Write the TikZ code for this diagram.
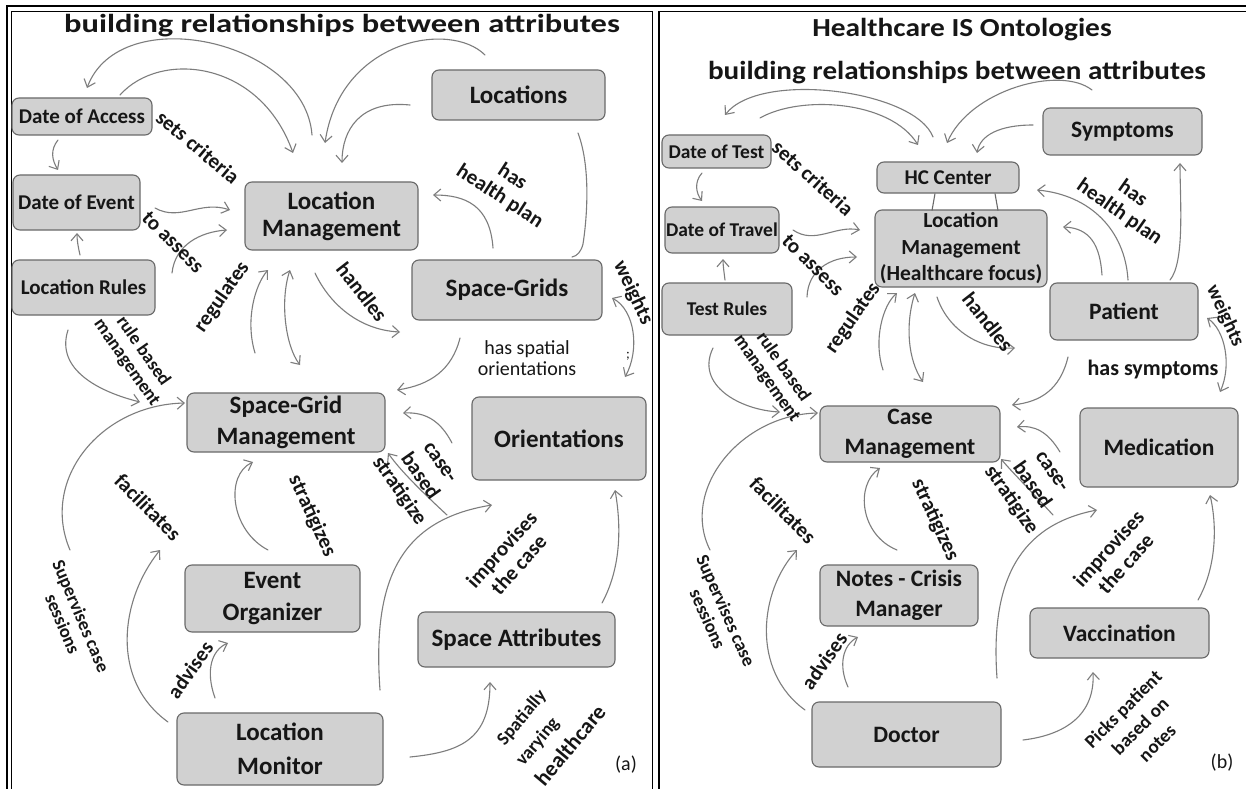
\documentclass[tikz,border=0pt]{standalone}
\usepackage{fontspec}
\setmainfont{Carlito}
\usetikzlibrary{arrows.meta}

\definecolor{boxfill}{RGB}{209,209,209}
\definecolor{boxline}{RGB}{105,105,105}
\definecolor{wire}{RGB}{125,125,125}
\definecolor{ink}{RGB}{22,22,22}
\newcommand{\fsz}[2]{\fontsize{#1}{#2}\selectfont}

\begin{document}
\begin{tikzpicture}[x=1pt,y=-1pt,
  >={Straight Barb[length=7pt,width=12pt]},
  box/.style={draw=boxline, fill=boxfill, rounded corners=7pt, line width=1.1pt,
    align=center, inner sep=0pt, text=ink},
  bigA/.style={font=\bfseries\fsz{25}{29}},
  smallA/.style={font=\bfseries\fsz{21}{25}},
  bigB/.style={font=\bfseries\fsz{23.5}{29}},
  smallB/.style={font=\bfseries\fsz{19.5}{24}},
  lab/.style={font=\bfseries\fsz{21}{23}, align=center, text=ink, inner sep=0pt},
  slab/.style={font=\bfseries\fsz{18.5}{20}, align=center, text=ink, inner sep=0pt},
  plain/.style={font=\fsz{20}{21}, align=center, text=ink, inner sep=0pt},
  title/.style={font=\bfseries\fsz{26}{28}, text=ink, inner sep=0pt},
  arr/.style={draw=wire, line width=1.1pt, line cap=round, ->},
  darr/.style={draw=wire, line width=1.1pt, line cap=round, <->},
  wirepath/.style={draw=wire, line width=1.1pt, line cap=round},
  frame/.style={draw=black, line width=2.2pt},
  thinframe/.style={draw=black, line width=0.8pt}]
\useasboundingbox (0,0) rectangle (1248,789);
\fill[white] (0,0) rectangle (1248,789);

% ---------- frames ----------
\draw[frame] (7,789) -- (7,6) -- (1246,6);
\draw[thinframe] (11,789) -- (11,11) -- (652,11) -- (652,789);
\draw[frame] (659,789) -- (659,11);
\draw[thinframe] (659,11) -- (1246,11);

% ---------- titles ----------
\node[title] (titA) at (342,26)
  {\scalebox{1.25}[1]{building relationships between attributes}};
\node[title] (titB1) at (962,30)
  {\scalebox{1.13}[1]{Healthcare IS Ontologies}};
\node[title] (titB2) at (957,73)
  {\scalebox{1.12}[1]{building relationships between attributes}};

% ================= panel (a) =================
\node[box, smallA, minimum width=140, minimum height=37] (dacc) at (82,116.5) {Date of Access};
\node[box, smallA, minimum width=127, minimum height=55] (devt) at (76.5,202.5) {Date of Event};
\node[box, smallA, minimum width=143, minimum height=55] (lrul) at (83.5,287.5) {Location Rules};
\node[box, bigA, font=\bfseries\fsz{25}{27}, minimum width=173, minimum height=68] (lmgt) at (331.5,216) {Location\\Management};
\node[box, bigA, minimum width=173, minimum height=50] (locs) at (518.5,95) {Locations};
\node[box, bigA, minimum width=190, minimum height=60] (sgrd) at (507,290) {Space-Grids};
\node[box, bigA, font=\bfseries\fsz{25}{31}, minimum width=198, minimum height=59] (sgm) at (286,422.5) {Space-Grid\\Management};
\node[box, bigA, minimum width=174, minimum height=83] (ori) at (559,438.5) {Orientations};
\node[box, bigA, font=\bfseries\fsz{25}{32}, minimum width=175, minimum height=67] (evo) at (272.5,598.5) {Event\\Organizer};
\node[box, bigA, minimum width=197, minimum height=55] (spa) at (516.5,639.5) {Space Attributes};
\node[box, bigA, font=\bfseries\fsz{25}{34}, minimum width=206, minimum height=72] (lmon) at (280,749) {Location\\Monitor};

% connectors (a)
\path (312,135) coordinate (a1s) (87,88) coordinate (a1e)
      (120,95) coordinate (a2s) (293,153) coordinate (a2e)
      (485,55) coordinate (a3s) (325,143) coordinate (a3e)
      (410,105) coordinate (a4s) (342,163) coordinate (a4e)
      (578,133) coordinate (a5s) (572,257) coordinate (a5e)
      (493,248) coordinate (a6s) (433,195) coordinate (a6e)
      (58,140) coordinate (a7s) (58,170) coordinate (a7e)
      (155,208) coordinate (a8s) (230,210) coordinate (a8e)
      (172,273) coordinate (a9s) (227,230) coordinate (a9e)
      (80,255) coordinate (a10s) (77,233) coordinate (a10e)
      (255,353) coordinate (a11s) (268,270) coordinate (a11e)
      (290,270) coordinate (a12s) (300,365) coordinate (a12e)
      (315,273) coordinate (a13s) (400,332) coordinate (a13e)
      (68,330) coordinate (a14s) (140,402) coordinate (a14e)
      (70,550) coordinate (a15s) (185,403) coordinate (a15e)
      (168,722) coordinate (a16s) (160,550) coordinate (a16e)
      (215,698) coordinate (a17s) (228,643) coordinate (a17e)
      (268,550) coordinate (a18s) (253,462) coordinate (a18e)
      (460,338) coordinate (a19s) (397,390) coordinate (a19e)
      (612,298) coordinate (a20s) (625,377) coordinate (a20e)
      (452,443) coordinate (a21s) (403,413) coordinate (a21e)
      (447,515) coordinate (a22s) (388,453) coordinate (a22e)
      (380,690) coordinate (a23s) (492,505) coordinate (a23e)
      (602,603) coordinate (a24s) (615,490) coordinate (a24e)
      (410,757) coordinate (a25s) (490,682) coordinate (a25e);

\draw[arr] (a1s) .. controls (305,40) and (120,0) .. (a1e);
\draw[arr] (a2s) .. controls (160,50) and (260,60) .. (a2e);
\draw[arr] (a3s) .. controls (450,20) and (340,40) .. (a3e);
\draw[arr] (a4s) .. controls (360,100) and (342,130) .. (a4e);
\draw[wirepath] (a5s) .. controls (592,170) and (586,225) .. (583,244) .. controls (581,252) and (577,256) .. (a5e);
\draw[arr] (a6s) .. controls (490,205) and (465,195) .. (a6e);
\draw[arr] (a7s) .. controls (50,150) and (52,160) .. (a7e);
\draw[arr] (a8s) .. controls (180,222) and (200,200) .. (a8e);
\draw[arr] (a9s) .. controls (175,245) and (200,232) .. (a9e);
\draw[arr] (a10s) .. controls (78,246) and (77,240) .. (a10e);
\draw[arr] (a11s) .. controls (245,320) and (255,285) .. (a11e);
\draw[darr] (a12s) .. controls (280,300) and (285,345) .. (a12e);
\draw[arr] (a13s) .. controls (330,305) and (360,330) .. (a13e);
\draw[arr] (a14s) .. controls (55,370) and (100,392) .. (a14e);
\draw[arr] (a15s) .. controls (40,480) and (100,405) .. (a15e);
\draw[arr] (a16s) .. controls (110,680) and (120,600) .. (a16e);
\draw[arr] (a17s) .. controls (205,670) and (212,650) .. (a17e);
\draw[arr] (a18s) .. controls (230,530) and (225,475) .. (a18e);
\draw[arr] (a19s) .. controls (452,370) and (430,385) .. (a19e);
\draw[darr] (a20s) .. controls (635,310) and (640,350) .. (a20e);
\draw[arr] (a21s) .. controls (440,420) and (425,412) .. (a21e);
\draw[arr] (a22s) .. controls (420,490) and (400,470) .. (a22e);
\draw[arr] (a23s) .. controls (372,580) and (400,520) .. (a23e);
\draw[arr] (a24s) .. controls (620,570) and (622,530) .. (a24e);
\draw[arr] (a25s) .. controls (460,752) and (490,740) .. (a25e);

% labels (a)
\node[lab, rotate=-40] (lA1) at (198,147) {sets criteria};
\node[lab, rotate=-45] (lA2) at (173,242) {to assess};
\node[lab, rotate=55] (lA3) at (222,297) {regulates};
\node[lab, rotate=-33] (lA4) at (506,187) {has\\health plan};
\node[lab, rotate=-52] (lA5) at (362,292) {handles};
\node[slab, rotate=-55] (lA6) at (135,357) {rule based\\management};
\node[lab, rotate=-45] (lA7) at (148,507) {facilitates};
\node[lab, rotate=-65] (lA8) at (312,516) {stratigizes};
\node[slab, rotate=-67] (lA9) at (72,620) {Supervises case\\sessions};
\node[lab, rotate=55] (lA10) at (190,670) {advises};
\node[lab, rotate=-55, font=\bfseries\fsz{21}{25}] (lA11) at (418,478) {case-\\based\\stratigize};
\node[lab, rotate=48] (lA12) at (510,557) {improvises\\the case};
\node[slab, rotate=50] (lA13) at (522,718) {Spatially};
\node[slab, rotate=50] (lA14) at (538,742) {varying};
\node[lab, rotate=50, font=\bfseries\fsz{22}{24}] (lA15) at (570,745) {healthcare};
\node[plain] (lA16) at (527,358) {has spatial\\orientations};
\node[lab, rotate=-65] (lA17) at (633,293) {weights};
\node[plain, font=\fsz{14}{14}] (lA18) at (628,356) {;};
\node[plain] (tagA) at (626,765) {(a)};

% ================= panel (b) =================
\node[box, smallB, minimum width=109, minimum height=33] (dtst) at (716.5,151.5) {Date of Test};
\node[box, smallB, minimum width=114, minimum height=46] (dtrv) at (722,230) {Date of Travel};
\node[box, smallB, font=\bfseries\fsz{21}{24}, minimum width=142, minimum height=31] (hcc) at (948,177.5) {HC Center};
\node[box, font=\bfseries\fsz{21.5}{26.5}, minimum width=172, minimum height=77] (lmh) at (961,248.5) {Location\\Management\\(Healthcare focus)};
\node[box, bigB, minimum width=159, minimum height=47] (sym) at (1122.5,131.5) {Symptoms};
\node[box, bigB, minimum width=148, minimum height=57] (pat) at (1124,311.5) {Patient};
\node[box, smallB, minimum width=130, minimum height=52] (trul) at (727,309) {Test Rules};
\node[box, bigB, font=\bfseries\fsz{23.5}{30}, minimum width=180, minimum height=56] (cmg) at (910,434) {Case\\Management};
\node[box, bigB, minimum width=158, minimum height=79] (med) at (1159,447.5) {Medication};
\node[box, bigB, font=\bfseries\fsz{23.5}{30}, minimum width=158, minimum height=61] (ncm) at (899,595.5) {Notes - Crisis\\Manager};
\node[box, bigB, minimum width=179, minimum height=50] (vac) at (1119.5,633) {Vaccination};
\node[box, bigB, minimum width=189, minimum height=65] (doc) at (906.5,734.5) {Doctor};

% HC Center sits on the management box
\draw[draw=boxline, line width=1.1pt] (hcc.south) ++(-13,0) coordinate (hl1) -- ++(-3,17);
\draw[draw=boxline, line width=1.1pt] (hcc.south) ++(47,0) coordinate (hl2) -- ++(3,17);

% connectors (b)
\path (933,137) coordinate (b1s) (725,115) coordinate (b1e)
      (760,118) coordinate (b2s) (918,145) coordinate (b2e)
      (1092,90) coordinate (b3s) (947,143) coordinate (b3e)
      (1033,125) coordinate (b4s) (977,153) coordinate (b4e)
      (702,173) coordinate (b5s) (702,201) coordinate (b5e)
      (793,230) coordinate (b6s) (860,230) coordinate (b6e)
      (807,297) coordinate (b7s) (857,257) coordinate (b7e)
      (725,280) coordinate (b8s) (723,259) coordinate (b8e)
      (883,370) coordinate (b9s) (897,293) coordinate (b9e)
      (915,293) coordinate (b10s) (923,382) coordinate (b10e)
      (937,297) coordinate (b11s) (1015,348) coordinate (b11e)
      (713,348) coordinate (b12s) (780,412) coordinate (b12e)
      (710,550) coordinate (b13s) (818,413) coordinate (b13e)
      (805,710) coordinate (b14s) (797,550) coordinate (b14e)
      (848,687) coordinate (b15s) (858,637) coordinate (b15e)
      (897,550) coordinate (b16s) (880,468) coordinate (b16e)
      (1068,357) coordinate (b17s) (1012,405) coordinate (b17e)
      (1060,452) coordinate (b18s) (1017,427) coordinate (b18e)
      (1207,318) coordinate (b19s) (1220,392) coordinate (b19e)
      (1053,515) coordinate (b20s) (1001,459) coordinate (b20e)
      (997,678) coordinate (b21s) (1097,510) coordinate (b21e)
      (1198,600) coordinate (b22s) (1210,495) coordinate (b22e)
      (1023,740) coordinate (b23s) (1093,672) coordinate (b23e)
      (1128,280) coordinate (b24s) (1037,190) coordinate (b24e)
      (1102,275) coordinate (b25s) (1063,227) coordinate (b25e)
      (1170,280) coordinate (b26s) (1180,163) coordinate (b26e);

\draw[arr] (b1s) .. controls (915,90) and (760,70) .. (b1e);
\draw[arr] (b2s) .. controls (800,95) and (890,100) .. (b2e);
\draw[arr] (b3s) .. controls (1060,65) and (970,90) .. (b3e);
\draw[arr] (b4s) .. controls (1000,125) and (980,135) .. (b4e);
\draw[arr] (b5s) .. controls (694,182) and (696,193) .. (b5e);
\draw[arr] (b6s) .. controls (815,245) and (835,225) .. (b6e);
\draw[arr] (b7s) .. controls (808,270) and (830,257) .. (b7e);
\draw[arr] (b8s) .. controls (724,272) and (723,265) .. (b8e);
\draw[arr] (b9s) .. controls (873,340) and (883,305) .. (b9e);
\draw[darr] (b10s) .. controls (905,325) and (908,360) .. (b10e);
\draw[arr] (b11s) .. controls (948,330) and (980,350) .. (b11e);
\draw[arr] (b12s) .. controls (695,385) and (740,410) .. (b12e);
\draw[arr] (b13s) .. controls (680,490) and (740,415) .. (b13e);
\draw[arr] (b14s) .. controls (750,670) and (760,590) .. (b14e);
\draw[arr] (b15s) .. controls (838,665) and (843,645) .. (b15e);
\draw[arr] (b16s) .. controls (860,535) and (855,485) .. (b16e);
\draw[arr] (b17s) .. controls (1060,390) and (1040,402) .. (b17e);
\draw[arr] (b18s) .. controls (1048,432) and (1035,425) .. (b18e);
\draw[darr] (b19s) .. controls (1225,330) and (1232,365) .. (b19e);
\draw[arr] (b20s) .. controls (1030,490) and (1012,472) .. (b20e);
\draw[arr] (b21s) .. controls (990,580) and (1020,525) .. (b21e);
\draw[arr] (b22s) .. controls (1215,570) and (1218,530) .. (b22e);
\draw[arr] (b23s) .. controls (1065,735) and (1095,715) .. (b23e);
\draw[arr] (b24s) .. controls (1125,230) and (1090,195) .. (b24e);
\draw[arr] (b25s) .. controls (1100,245) and (1090,228) .. (b25e);
\draw[arr] (b26s) .. controls (1185,262) and (1180,200) .. (b26e);

% labels (b)
\node[lab, rotate=-42] (lB1) at (813,178) {sets criteria};
\node[lab, rotate=-45] (lB2) at (813,265) {to assess};
\node[lab, rotate=55] (lB3) at (853,318) {regulates};
\node[lab, rotate=-35] (lB4) at (1126,203) {has\\health plan};
\node[lab, rotate=-52] (lB5) at (988,322) {handles};
\node[slab, rotate=-55] (lB6) at (775,373) {rule based\\management};
\node[lab, rotate=-45] (lB7) at (783,510) {facilitates};
\node[lab, rotate=-65] (lB8) at (935,520) {stratigizes};
\node[slab, rotate=-66] (lB9) at (717,615) {Supervises case\\sessions};
\node[lab, rotate=55] (lB10) at (824,661) {advises};
\node[lab, font=\bfseries\fsz{22}{24}] (lB11) at (1153,370) {has symptoms};
\node[lab, rotate=-65, font=\bfseries\fsz{20}{22}] (lB12) at (1225,316) {weights};
\node[lab, rotate=-55, font=\bfseries\fsz{21}{25}] (lB13) at (1030,487) {case-\\based\\stratigize};
\node[lab, rotate=48] (lB14) at (1117,556) {improvises\\the case};
\node[slab, rotate=45, font=\bfseries\fsz{19}{24}] (lB15) at (1140,726) {Picks patient\\based on\\notes};
\node[plain] (tagB) at (1222,763) {(b)};
\end{tikzpicture}
\end{document}
